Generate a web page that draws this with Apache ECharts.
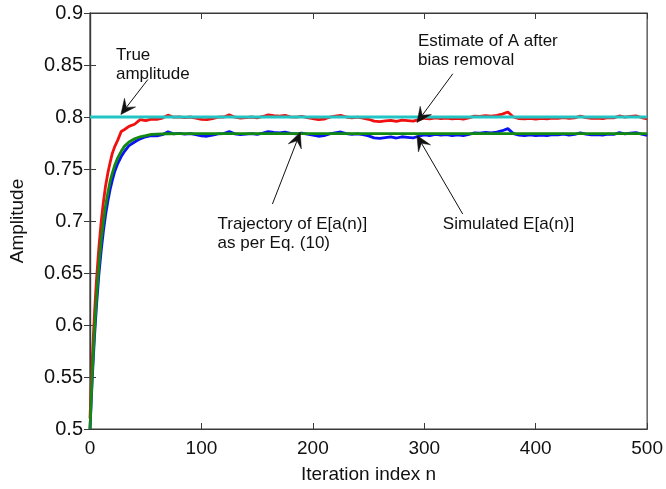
<!DOCTYPE html>
<html>
<head>
<meta charset="utf-8">
<script src="https://cdn.jsdelivr.net/npm/echarts@6/dist/echarts.min.js"></script>
<style>
  html, body { margin: 0; padding: 0; background: #fff; }
  #chart { width: 666px; height: 489px; }
</style>
</head>
<body>
<div id="chart"></div>
<script>
// Iteration indices for the simulated curves (dense during the transient)
const iterSim = [0, 1, 2, 3, 4, 5, 6, 8, 10, 12, 14, 16, 18, 20, 22, 25, 28, 31, 35, 40, 45, 50,
  55, 60, 65, 70, 75, 80, 85, 90, 95, 100, 105, 110, 115, 120, 125, 130, 135, 140, 145, 150,
  155, 160, 165, 170, 175, 180, 185, 190, 195, 200, 205, 210, 215, 220, 225, 230, 235, 240, 245, 250,
  255, 260, 265, 270, 275, 280, 285, 290, 295, 300, 305, 310, 315, 320, 325, 330, 335, 340, 345, 350,
  355, 360, 365, 370, 375, 380, 385, 390, 395, 400, 405, 410, 415, 420, 425, 430, 435, 440, 445, 450,
  455, 460, 465, 470, 475, 480, 485, 490, 495, 500];

// Simulated E[a(n)]
const simulated = [0.500, 0.524, 0.548, 0.568, 0.588, 0.605, 0.621, 0.649, 0.671, 0.690, 0.706, 0.719, 0.730, 0.739, 0.747, 0.7555, 0.762, 0.767, 0.7725, 0.776, 0.779, 0.781,
  0.7820, 0.7818, 0.7830, 0.7858, 0.7838, 0.7842, 0.7835, 0.7840, 0.7830, 0.7818, 0.7815, 0.7825, 0.7838, 0.7840, 0.7860, 0.7838, 0.7830, 0.7835, 0.7840, 0.7832,
  0.7845, 0.7860, 0.7852, 0.7848, 0.7855, 0.7842, 0.7838, 0.7845, 0.7835, 0.7825, 0.7815, 0.7820, 0.7838, 0.7848, 0.7856, 0.7840, 0.7832, 0.7838, 0.7830, 0.7818,
  0.7800, 0.7795, 0.7802, 0.7808, 0.7798, 0.7810, 0.7805, 0.7800, 0.7815, 0.7828, 0.7822, 0.7832, 0.7825, 0.7830, 0.7822, 0.7828, 0.7820, 0.7832, 0.7848, 0.7845,
  0.7852, 0.7848, 0.7855, 0.7868, 0.7888, 0.7840, 0.7825, 0.7822, 0.7828, 0.7820, 0.7826, 0.7822, 0.7830, 0.7828, 0.7835, 0.7826, 0.7832, 0.7848, 0.7835, 0.7828,
  0.7830, 0.7825, 0.7835, 0.7832, 0.7850, 0.7838, 0.7845, 0.7850, 0.7835, 0.7822];

// Estimate of A after bias removal
const biasRemoved = [0.510, 0.539, 0.565, 0.589, 0.610, 0.629, 0.646, 0.675, 0.699, 0.718, 0.734, 0.746, 0.756, 0.765, 0.771, 0.778, 0.786, 0.788, 0.791, 0.793, 0.7975, 0.7965,
  0.7980, 0.7978, 0.7990, 0.8018, 0.7998, 0.8002, 0.7995, 0.8000, 0.7990, 0.7978, 0.7975, 0.7985, 0.7998, 0.8000, 0.8020, 0.7998, 0.7990, 0.7995, 0.8000, 0.7992,
  0.8005, 0.8020, 0.8012, 0.8008, 0.8015, 0.8002, 0.7998, 0.8005, 0.7995, 0.7985, 0.7975, 0.7980, 0.7998, 0.8008, 0.8016, 0.8000, 0.7992, 0.7998, 0.7990, 0.7978,
  0.7960, 0.7955, 0.7962, 0.7968, 0.7958, 0.7970, 0.7965, 0.7960, 0.7975, 0.7988, 0.7982, 0.7992, 0.7985, 0.7990, 0.7982, 0.7988, 0.7980, 0.7992, 0.8008, 0.8005,
  0.8012, 0.8008, 0.8015, 0.8028, 0.8048, 0.8000, 0.7985, 0.7982, 0.7988, 0.7980, 0.7986, 0.7982, 0.7990, 0.7988, 0.7995, 0.7986, 0.7992, 0.8008, 0.7995, 0.7988,
  0.7990, 0.7985, 0.7995, 0.7992, 0.8010, 0.7998, 0.8005, 0.8010, 0.7995, 0.7982];

// Trajectory of E[a(n)] as per Eq. (10)
const iterTheory = [0, 1, 2, 3, 4, 5, 6, 8, 10, 12, 14, 16, 18, 20, 22, 25, 28, 31, 35, 40, 45, 50, 55, 60, 70, 80, 100, 200, 300, 400, 500];
const theory = [0.500, 0.527, 0.552, 0.574, 0.594, 0.612, 0.629, 0.657, 0.681, 0.699, 0.715, 0.727, 0.738, 0.746, 0.753, 0.761, 0.767, 0.772, 0.776, 0.779, 0.781, 0.782, 0.7832, 0.7836, 0.7839, 0.784, 0.784, 0.784, 0.784, 0.784, 0.784];

// True amplitude
const iterTrue = [0, 500];
const trueAmp = [0.8, 0.8];

// Axis ticks
const xTicks = [0, 100, 200, 300, 400, 500];
const yTicks = [0.5, 0.55, 0.6, 0.65, 0.7, 0.75, 0.8, 0.85, 0.9];

const zip = (xs, ys) => xs.map((x, i) => [x, ys[i]]);

const FONT = 'Liberation Sans, Arial, sans-serif';
const frameColor = '#3a3a3a';

const chart = echarts.init(document.getElementById('chart'), null, { renderer: 'canvas' });

const lineSeries = (name, xs, ys, color, z) => ({
  name, type: 'line', data: zip(xs, ys), showSymbol: false, symbol: 'none',
  lineStyle: { color, width: 2.8 }, z, animation: false, silent: true
});

chart.setOption({
  animation: false,
  backgroundColor: '#fff',
  grid: { left: 89, right: 18, top: 13, bottom: 56, show: true, borderColor: frameColor, borderWidth: 1.2 },
  xAxis: [{
    type: 'value', min: xTicks[0], max: xTicks[xTicks.length - 1], interval: 100,
    name: 'Iteration index n', nameLocation: 'middle', nameGap: 36,
    nameTextStyle: { fontFamily: FONT, fontSize: 19, color: '#111' },
    axisLine: { show: true, lineStyle: { color: frameColor, width: 1.2 } },
    axisTick: { inside: true, length: 6, lineStyle: { color: frameColor } },
    axisLabel: { fontFamily: FONT, fontSize: 19, color: '#111', margin: 10 },
    splitLine: { show: false }
  }, {
    type: 'value', position: 'top', min: xTicks[0], max: xTicks[xTicks.length - 1], interval: 100,
    axisLine: { show: true, lineStyle: { color: frameColor, width: 1.2 } },
    axisTick: { inside: true, length: 6, lineStyle: { color: frameColor } },
    axisLabel: { show: false }, splitLine: { show: false }
  }],
  yAxis: [{
    type: 'value', min: yTicks[0], max: yTicks[yTicks.length - 1], interval: 0.05,
    name: 'Amplitude', nameLocation: 'middle', nameGap: 63, nameRotate: 90,
    nameTextStyle: { fontFamily: FONT, fontSize: 19, color: '#111' },
    axisLine: { show: true, lineStyle: { color: frameColor, width: 1.2 } },
    axisTick: { inside: true, length: 6, lineStyle: { color: frameColor } },
    axisLabel: { fontFamily: FONT, fontSize: 20, color: '#111', margin: 7 },
    splitLine: { show: false }
  }, {
    type: 'value', position: 'right', min: yTicks[0], max: yTicks[yTicks.length - 1], interval: 0.05,
    axisLine: { show: true, lineStyle: { color: frameColor, width: 1.2 } },
    axisTick: { inside: true, length: 6, lineStyle: { color: frameColor } },
    axisLabel: { show: false }, splitLine: { show: false }
  }],
  series: [
    lineSeries('Simulated E[a(n)]', iterSim, simulated, '#0a14f0', 2),
    lineSeries('Estimate of A after bias removal', iterSim, biasRemoved, '#f01010', 3),
    lineSeries('Trajectory of E[a(n)]', iterTheory, theory, '#128a12', 4),
    lineSeries('True amplitude', iterTrue, trueAmp, '#22c4c4', 5)
  ]
});

// Annotations: text anchored at its top-left corner, arrows from tail to tip (data coordinates)
const notes = [
  { text: 'True\namplitude', at: [23.3, 0.868] },
  { text: 'Estimate of A after\nbias removal', at: [294.3, 0.8823] },
  { text: 'Trajectory of E[a(n)]\nas per Eq. (10)', at: [114.5, 0.7057] },
  { text: 'Simulated E[a(n)]', at: [316.6, 0.7057] }
];
const arrows = [
  { tail: [51.9, 0.836], tip: [27.7, 0.8024] },
  { tail: [325.6, 0.8416], tip: [293.4, 0.7947] },
  { tail: [163.7, 0.7163], tip: [188.7, 0.7852] },
  { tail: [334.5, 0.7067], tip: [293.4, 0.7823] }
];

const toPx = p => chart.convertToPixel({ gridIndex: 0 }, p);
const graphics = [];
notes.forEach(n => {
  const [x, y] = toPx(n.at);
  graphics.push({
    type: 'text', x, y, z: 50,
    style: { text: n.text, fontFamily: FONT, fontSize: 17, lineHeight: 19, fill: '#111', align: 'left', verticalAlign: 'top' }
  });
});
arrows.forEach(a => {
  const [x0, y0] = toPx(a.tail);
  const [x1, y1] = toPx(a.tip);
  const dx = x1 - x0, dy = y1 - y0, len = Math.hypot(dx, dy);
  const ux = dx / len, uy = dy / len, px = -uy, py = ux;
  const L = 15, W = 7, N = 9;
  const bx = x1 - ux * L, by = y1 - uy * L;
  graphics.push({
    type: 'line', z: 50,
    shape: { x1: x0, y1: y0, x2: x1 - ux * N, y2: y1 - uy * N },
    style: { stroke: '#111', lineWidth: 1 }
  });
  graphics.push({
    type: 'polygon', z: 51,
    shape: { points: [[x1, y1], [bx + px * W, by + py * W], [x1 - ux * N, y1 - uy * N], [bx - px * W, by - py * W]] },
    style: { fill: '#111', stroke: '#111', lineWidth: 0.5 }
  });
});
chart.setOption({ graphic: graphics });
</script>
</body>
</html>
